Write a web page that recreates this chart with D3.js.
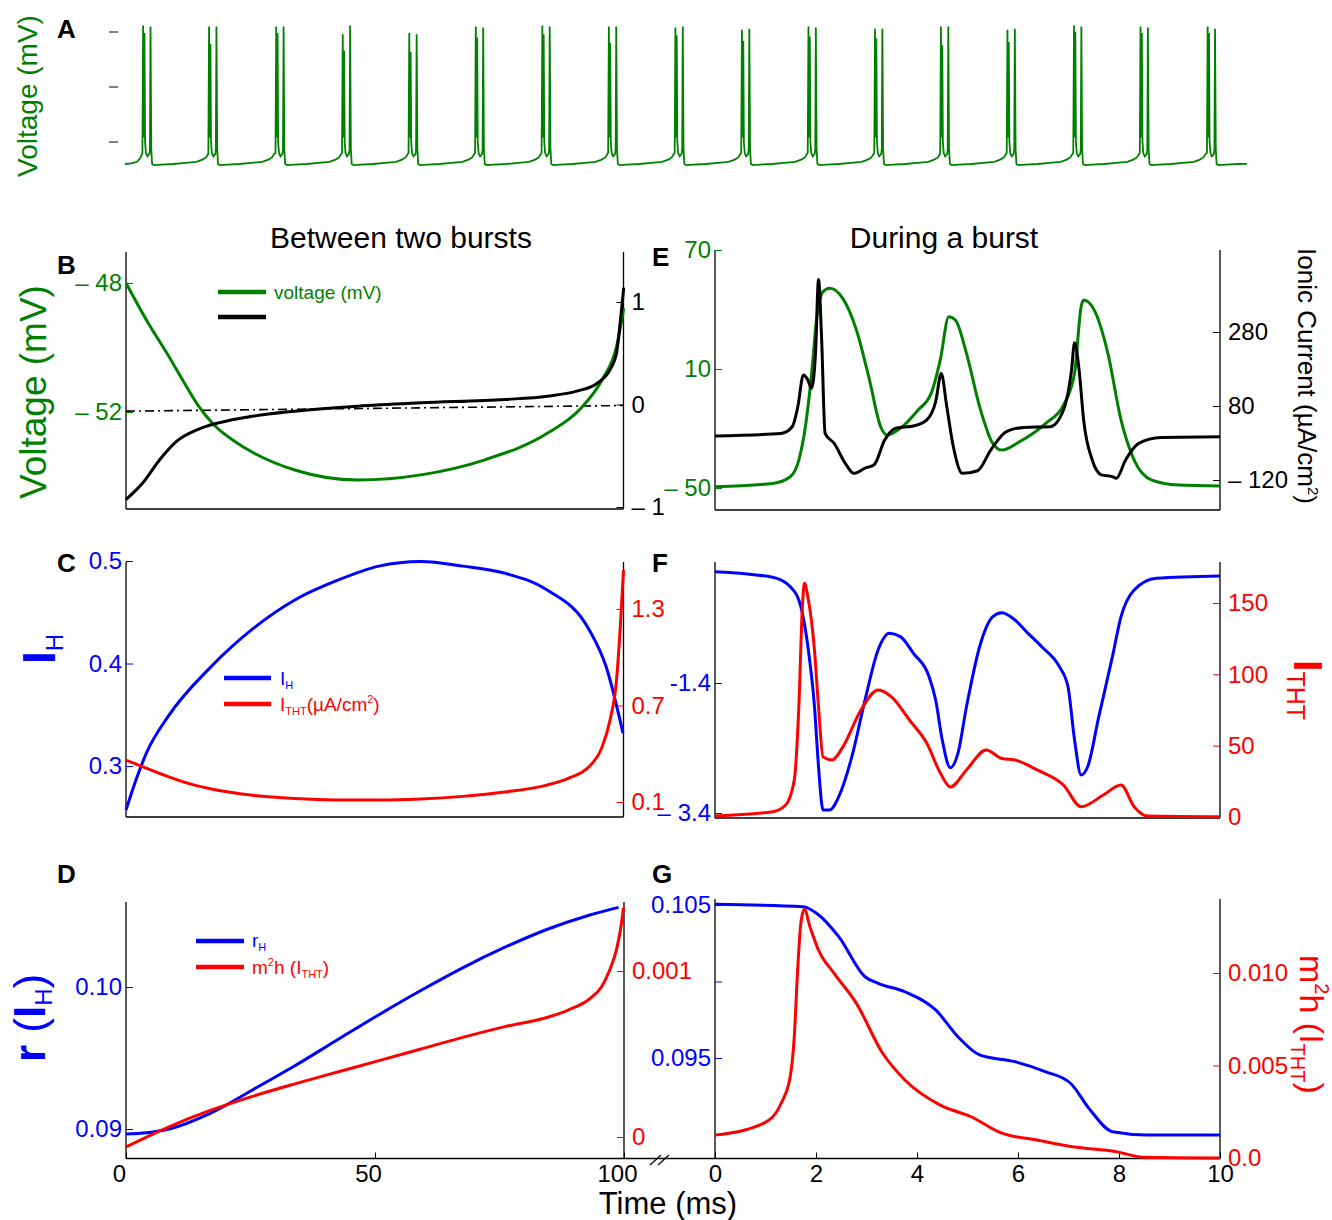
<!DOCTYPE html>
<html lang="en">
<head>
<meta charset="UTF-8">
<title>Bursting neuron</title>
<script src="https://cdn.jsdelivr.net/npm/d3@7"></script>
<style>
  body { margin: 0; background: #fff; }
  svg text { font-family: "Liberation Sans", Arial, Helvetica, sans-serif; }
</style>
</head>
<body>
<div id="fig"></div>
<script>
// ---------------- data ----------------
const GREEN = "#008000", BLUE = "#0000ff", RED = "#ff0000";

// A: spike train (ms, mV)
const burstTimesA = [30, 139, 250, 360, 470, 580, 690, 800, 910, 1020, 1130, 1240, 1349, 1459, 1569, 1679, 1790];
const spikePeaksA = [[56,49,55],[55,39,55],[55,49,55],[48,33,56],[49,32,48],[55,45,54],[56,48,55],[55,40,55],
                     [54,47,55],[52,42,53],[55,46,54],[53,44,53],[55,38,55],[52,41,53],[56,50,55],[55,49,54],[55,49,53]];
// one cycle, relative to first spike of a burst; null = spike peak
const cycleT = [-1.2, 0, 1.0, 2.2, 3.2, 4.6, 7, 10.2, 11.2, 12.2, 13.4, 14.8, 18, 30, 50, 70, 88, 98, 104, 107.5];
const cycleV = [-60, null, -46, null, -50, -60, -63, -61, -57, null, -56, -70, -71, -70.5, -70, -69, -68, -66, -64, -61];
const leadT = [0, 10, 20, 26];
const leadV = [-70, -69.5, -68, -64];
const endA = [1855, -69.8];
const ticksA = [-50, 0, 50];

// B: between two bursts (t in ms)
const tB_v = [0, 4.3, 8.5, 11.9, 14.4, 17.8, 22.0, 25.4, 33.9, 46.5, 59.2, 71.9, 84.6, 91.3, 95.6, 98.5, 99.95];
const vB   = [-48.0, -49.2, -50.25, -51.15, -51.78, -52.42, -52.93, -53.25, -53.8, -54.11, -53.95, -53.49, -52.66, -51.89, -51.0, -49.97, -48.78];
const tB_i = [0, 3.4, 6.8, 10.2, 14.4, 18.6, 25.4, 33.9, 46.5, 59.2, 76.1, 84.6, 90.5, 94.7, 97.2, 98.5, 99.3, 99.95];
const iB   = [-0.927, -0.764, -0.537, -0.358, -0.244, -0.179, -0.114, -0.065, -0.016, 0.016, 0.049, 0.081, 0.13, 0.21, 0.34, 0.50, 0.83, 1.14];
const refB_t = [0, 100];
const refB_v = [-0.065, -0.01];
const ticksB_left = [-48, -52],   labelsB_left = ["– 48", "– 52"];
const ticksB_right = [1, 0, -1],  labelsB_right = ["1", "0", "– 1"];

// C: I_H and I_THT
const tC_h = [0, 2.0, 4.2, 8.4, 16.9, 25.5, 33.9, 42.4, 50.8, 59.2, 67.7, 76.1, 84.5, 93.0, 96.4, 99.8];
const iC_h = [0.257, 0.2863, 0.3137, 0.348, 0.396, 0.434, 0.462, 0.481, 0.495, 0.4995, 0.495, 0.488, 0.472, 0.433, 0.397, 0.332];
const tC_t = [0, 8.5, 12.7, 16.9, 25.4, 33.9, 42.3, 50.8, 59.2, 67.6, 76.1, 84.5, 88.8, 93.0, 95.5, 97.2, 98.5, 99.3, 99.9];
const iC_t = [0.361, 0.258, 0.214, 0.182, 0.142, 0.122, 0.113, 0.112, 0.119, 0.135, 0.162, 0.205, 0.247, 0.320, 0.434, 0.610, 0.859, 1.211, 1.543];
const ticksC_left = [0.5, 0.4, 0.3],  labelsC_left = ["0.5", "0.4", "0.3"];
const ticksC_right = [1.3, 0.7, 0.1], labelsC_right = ["1.3", "0.7", "0.1"];

// D: gating variables
const tD_r = [0, 4.2, 8.5, 16.9, 25.4, 33.9, 42.3, 50.8, 59.2, 67.6, 76.1, 84.5, 93.0, 98.9];
const rD   = [0.08965, 0.08974, 0.08998, 0.0911, 0.09275, 0.09445, 0.09625, 0.09805, 0.09975, 0.10135, 0.1028, 0.10405, 0.10505, 0.10561];
const tD_m = [0, 8.5, 16.9, 25.4, 33.9, 42.3, 50.8, 59.2, 67.6, 76.1, 84.5, 88.8, 93.0, 95.5, 97.2, 98.5, 99.3, 99.9];
const mD   = [-0.00006, 0.00006, 0.00016, 0.000245, 0.00032, 0.00039, 0.00046, 0.00053, 0.0006, 0.000665, 0.00072,
              0.000765, 0.00083, 0.000905, 0.00101, 0.00113, 0.00125, 0.00138];
const ticksD_left = [0.10, 0.09],  labelsD_left = ["0.10", "0.09"];
const ticksD_right = [0.001, 0],   labelsD_right = ["0.001", "0"];
const ticksD_x = [0, 50, 100];

// E: during a burst (t in ms)
const tE_v = [0, 1.14, 1.49, 1.66, 1.79, 1.92, 2.01, 2.14, 2.27, 2.53, 2.80, 3.06, 3.28, 3.41, 3.67, 4.02, 4.28, 4.46, 4.63, 4.76,
              4.98, 5.24, 5.5, 5.68, 6.03, 6.55, 6.9, 7.12, 7.25, 7.30, 7.51, 7.78, 8.04, 8.30, 8.65, 9.18, 10];
const vE   = [-49.4, -47.7, -44.3, -35.9, -19.1, 9.5, 34.7, 49.0, 50.7, 45.6, 29.7, 4.4, -19.1, -23.3, -19.9, -10.7, -2.3, 14.5, 36.4, 34.7,
              17.9, -9.0, -27.5, -30.9, -26.7, -17.4, -8.2, 7.8, 41.4, 44.8, 39.7, 17.9, -15.7, -35.9, -46.0, -48.5, -49.0];
const tE_i = [0, 1.31, 1.53, 1.64, 1.75, 1.84, 1.91, 1.99, 2.05, 2.11, 2.18, 2.36, 2.58, 2.75, 2.97, 3.15, 3.36, 3.58, 3.93, 4.19, 4.37,
              4.48, 4.59, 4.72, 4.9, 5.2, 5.46, 5.77, 6.12, 6.64, 6.9, 7.06, 7.12, 7.21, 7.30, 7.47, 7.65, 7.87, 7.95, 8.13, 8.39, 8.83, 10];
const iE   = [-1, 6, 24, 78, 164, 150, 128, 222, 422, 267, 6, -21, -75, -102, -88, -79, -12, 20, 26, 42, 92,
              168, 78, -30, -102, -95, -39, 11, 22, 24, 69, 177, 251, 177, 42, -66, -106, -111, -115, -66, -21, -5, -3];
const ticksE_left = [70, 10, -50],     labelsE_left = ["70", "10", "– 50"];
const ticksE_right = [280, 80, -120],  labelsE_right = ["280", "80", "– 120"];

// F: currents during a burst
const tF_h = [0, 1.14, 1.49, 1.70, 1.84, 1.97, 2.05, 2.14, 2.27, 2.45, 2.71, 2.97, 3.23, 3.45, 3.67, 3.93, 4.24, 4.37, 4.50, 4.66,
              4.81, 4.98, 5.24, 5.5, 5.68, 5.94, 6.2, 6.47, 6.82, 6.99, 7.12, 7.25, 7.38, 7.6, 7.87, 8.04, 8.30, 8.74, 10];
const iF_h = [0.312, 0.226, 0.082, -0.226, -0.842, -1.765, -2.688, -3.354, -3.354, -3.149, -2.534, -1.662, -0.892, -0.636, -0.687,
              -0.943, -1.303, -1.662, -2.277, -2.703, -2.482, -1.765, -0.842, -0.38, -0.319, -0.431, -0.636, -0.842, -1.149, -1.457,
              -2.277, -2.815, -2.688, -1.918, -0.995, -0.38, 0.031, 0.211, 0.246];
const tF_t = [0, 1.14, 1.40, 1.57, 1.66, 1.73, 1.77, 1.84, 1.97, 2.05, 2.14, 2.32, 2.53, 2.89, 3.23, 3.50, 3.85, 4.19, 4.46, 4.66,
              4.98, 5.37, 5.68, 5.94, 6.38, 6.9, 7.25, 7.69, 8.04, 8.30, 8.56, 10];
const iF_t = [0.7, 3.7, 8.4, 25.9, 77, 147, 164, 154, 117, 77, 42, 40, 49, 75, 89, 84, 68, 52, 31, 21,
              33, 47, 41, 40, 33, 22.4, 7.2, 15.4, 22.4, 7.2, 0.7, 0.2];
const ticksF_left = [-1.4, -3.4],           labelsF_left = ["-1.4", "– 3.4"];
const ticksF_right = [150, 100, 50, 0],     labelsF_right = ["150", "100", "50", "0"];

// G: gating variables during a burst
const tG_r = [0, 1.75, 2.01, 2.45, 2.97, 3.23, 3.76, 4.37, 4.81, 5.24, 5.94, 6.55, 7.04, 7.43, 7.87, 8.56, 10];
const rG   = [0.10505, 0.10489, 0.10446, 0.10293, 0.10031, 0.09988, 0.09933, 0.09814, 0.09639, 0.0952, 0.09476, 0.0941,
              0.09335, 0.0916, 0.09018, 0.08997, 0.08997];
const tG_m = [0, 0.96, 1.31, 1.49, 1.57, 1.64, 1.70, 1.77, 1.88, 2.05, 2.36, 2.80, 3.32, 3.76, 4.46, 5.07, 5.68, 6.38, 7.08, 7.95, 8.48, 10];
const mG   = [0.00124, 0.00187, 0.00296, 0.0044, 0.00656, 0.01034, 0.01268, 0.01344, 0.0125, 0.01124, 0.00998, 0.00836, 0.00566,
              0.00422, 0.00286, 0.00223, 0.00134, 0.00097, 0.00061, 0.00034, 0.00004, 0.0];
const ticksG_left = [0.105, 0.100, 0.095, 0.090],  labelsG_left = ["0.105", "", "0.095", ""];
const ticksG_right = [0.010, 0.005, 0.0],           labelsG_right = ["0.010", "0.005", "0.0"];
const ticksG_x = [0, 2, 4, 6, 8, 10];

// ---------------- drawing ----------------
const FONT = '"Liberation Sans", Arial, Helvetica, sans-serif';
const svg = d3.select("#fig").append("svg").attr("width", 1332).attr("height", 1220);

// shared time scales
const xSlow = d3.scaleLinear().domain([0, 100]).range([126, 624]);
const xFast = d3.scaleLinear().domain([0, 10]).range([715, 1220]);

const drawLine = (ts, vs, x, y, color, width) => {
    svg.append("path")
        .datum(d3.zip(ts, vs))
        .attr("fill", "none")
        .attr("stroke", color)
        .attr("stroke-width", width)
        .attr("stroke-linejoin", "round")
        .attr("d", d3.line().x(d => x(d[0])).y(d => y(d[1])).curve(d3.curveMonotoneX));
};

const frame = (x0, x1, top, bottom) => {
    const g = svg.append("g").attr("stroke", "#000").attr("stroke-width", 1.3);
    g.append("line").attr("x1", x0).attr("x2", x0).attr("y1", top).attr("y2", bottom);
    g.append("line").attr("x1", x1).attr("x2", x1).attr("y1", top).attr("y2", bottom);
    g.append("line").attr("x1", x0).attr("x2", x1).attr("y1", bottom).attr("y2", bottom);
};

const yAxis = (scale, xPos, side, vals, labels, color) => {
    const ax = (side === "left" ? d3.axisLeft(scale) : d3.axisRight(scale))
        .tickValues(vals)
        .tickFormat((d, i) => labels[i])
        .tickSize(-7)
        .tickSizeOuter(0)
        .tickPadding(side === "left" ? 4 : 8);
    const g = svg.append("g").attr("transform", `translate(${xPos},0)`).call(ax)
        .attr("font-family", FONT).attr("font-size", 24);
    g.select(".domain").remove();
    g.selectAll("line").attr("stroke", color);
    g.selectAll("text").attr("fill", color);
};

const xAxis = (scale, yPos, vals, dx) => {
    const g = svg.append("g").attr("transform", `translate(0,${yPos})`)
        .call(d3.axisBottom(scale).tickValues(vals).tickSize(-6).tickSizeOuter(0).tickPadding(6))
        .attr("font-family", FONT).attr("font-size", 24);
    g.select(".domain").remove();
    g.selectAll("text").attr("fill", "#000").attr("dx", dx);
};

// text with sub/superscripts: parts = [{t, size, shift, bold}]
const rich = (textSel, parts, size) => {
    let shift = 0;
    parts.forEach(p => {
        const target = p.shift || 0;
        textSel.append("tspan")
            .attr("dy", target - shift)
            .style("font-size", (p.size || size) + "px")
            .style("font-weight", p.bold ? "bold" : "normal")
            .text(p.t);
        shift = target;
    });
    return textSel;
};

const label = (x, y, txt, opts = {}) => svg.append("text")
    .attr("x", x).attr("y", y)
    .attr("fill", opts.color || "#000")
    .attr("text-anchor", opts.anchor || "start")
    .style("font-size", (opts.size || 24) + "px")
    .style("font-weight", opts.bold ? "bold" : "normal")
    .text(txt);

const legendLine = (x0, x1, y, color) => svg.append("line")
    .attr("x1", x0).attr("x2", x1).attr("y1", y).attr("y2", y)
    .attr("stroke", color).attr("stroke-width", 4.5);

// ---- panel letters and titles ----
[["A", 57, 38], ["B", 57, 274], ["C", 57, 572], ["D", 57, 883], ["E", 652, 266], ["F", 652, 572], ["G", 652, 883]]
    .forEach(([t, x, y]) => label(x, y, t, { size: 26, bold: true }));
label(401, 248, "Between two bursts", { size: 30, anchor: "middle" });
label(944, 248, "During a burst", { size: 30, anchor: "middle" });

// ---- A ----
const xA = d3.scaleLinear().domain([0, 1860]).range([125, 1250]);
const yA = d3.scaleLinear().domain([-50, 50]).range([142, 32]);
let traceT = leadT.slice(), traceV = leadV.slice();
burstTimesA.forEach((b, k) => {
    let slot = 0;
    cycleT.forEach((ct, j) => {
        const t = b + ct;
        if (t >= endA[0]) return;
        traceT.push(t);
        traceV.push(cycleV[j] === null ? spikePeaksA[k][slot++] : cycleV[j]);
    });
});
traceT.push(endA[0]); traceV.push(endA[1]);
svg.append("path")
    .datum(d3.zip(traceT, traceV))
    .attr("fill", "none").attr("stroke", GREEN).attr("stroke-width", 1.8)
    .attr("d", d3.line().x(d => xA(d[0])).y(d => yA(d[1])));
svg.append("g").selectAll("line").data(ticksA).join("line")
    .attr("x1", 109).attr("x2", 118).attr("y1", d => yA(d)).attr("y2", d => yA(d))
    .attr("stroke", "#000").attr("stroke-width", 1);
svg.append("text").attr("transform", "translate(37,96) rotate(-90)")
    .attr("text-anchor", "middle").attr("fill", GREEN).style("font-size", "28px").text("Voltage (mV)");

// ---- B ----
const yBv = d3.scaleLinear().domain([-48, -52]).range([283, 412]);
const yBi = d3.scaleLinear().domain([1, -1]).range([302, 507]);
frame(126, 623.5, 252, 509);
yAxis(yBv, 126, "left", ticksB_left, labelsB_left, GREEN);
yAxis(yBi, 623.5, "right", ticksB_right, labelsB_right, "#000");
svg.append("path").datum(d3.zip(refB_t, refB_v))
    .attr("fill", "none").attr("stroke", "#000").attr("stroke-width", 1.6)
    .attr("stroke-dasharray", "9,4,2,4")
    .attr("d", d3.line().x(d => xSlow(d[0])).y(d => yBi(d[1])));
drawLine(tB_v, vB, xSlow, yBv, GREEN, 3);
drawLine(tB_i, iB, xSlow, yBi, "#000", 3);
legendLine(218, 266, 292, GREEN);
label(274, 299, "voltage (mV)", { size: 19, color: GREEN });
legendLine(218, 266, 317, "#000");
svg.append("text").attr("transform", "translate(46,392) rotate(-90)")
    .attr("text-anchor", "middle").attr("fill", GREEN).style("font-size", "37px").text("Voltage (mV)");

// ---- C ----
const yCh = d3.scaleLinear().domain([0.5, 0.3]).range([561, 766]);
const yCt = d3.scaleLinear().domain([1.3, 0.1]).range([609, 802]);
frame(126, 623.5, 562, 817);
yAxis(yCh, 126, "left", ticksC_left, labelsC_left, BLUE);
yAxis(yCt, 623.5, "right", ticksC_right, labelsC_right, RED);
drawLine(tC_h, iC_h, xSlow, yCh, BLUE, 3);
drawLine(tC_t, iC_t, xSlow, yCt, RED, 3);
legendLine(224, 271, 678, BLUE);
rich(svg.append("text").attr("x", 280).attr("y", 685).attr("fill", BLUE),
    [{ t: "I" }, { t: "H", size: 11, shift: 4 }], 19);
legendLine(224, 271, 704, RED);
rich(svg.append("text").attr("x", 280).attr("y", 711).attr("fill", RED),
    [{ t: "I" }, { t: "THT", size: 11, shift: 4 }, { t: "(µA/cm" }, { t: "2", size: 11, shift: -8 }, { t: ")" }], 19);
rich(svg.append("text").attr("transform", "translate(55,664) rotate(-90)").attr("fill", BLUE),
    [{ t: "I", bold: true }, { t: "H", size: 24, shift: 8 }], 46);

// ---- D ----
const yDr = d3.scaleLinear().domain([0.10, 0.09]).range([987, 1129]);
const yDm = d3.scaleLinear().domain([0.001, 0]).range([971, 1137]);
frame(126, 624, 902, 1158.5);
yAxis(yDr, 126, "left", ticksD_left, labelsD_left, BLUE);
yAxis(yDm, 624, "right", ticksD_right, labelsD_right, RED);
xAxis(xSlow, 1158.5, ticksD_x, -7);
drawLine(tD_r, rD, xSlow, yDr, BLUE, 3);
drawLine(tD_m, mD, xSlow, yDm, RED, 3);
legendLine(196, 244, 941, BLUE);
rich(svg.append("text").attr("x", 252).attr("y", 947).attr("fill", BLUE),
    [{ t: "r" }, { t: "H", size: 11, shift: 4 }], 19);
legendLine(196, 244, 967, RED);
rich(svg.append("text").attr("x", 252).attr("y", 974).attr("fill", RED),
    [{ t: "m" }, { t: "2", size: 11, shift: -8 }, { t: "h (I" }, { t: "THT", size: 11, shift: 4 }, { t: ")" }], 19);
rich(svg.append("text").attr("transform", "translate(45,1062) rotate(-90)").attr("fill", BLUE),
    [{ t: "r", bold: true }, { t: "  (" }, { t: "I", bold: true }, { t: "H", size: 24, shift: 7 }, { t: ")" }], 44);

// bottom axis joining D and G, with a break mark
svg.append("line").attr("x1", 624).attr("x2", 715).attr("y1", 1158.5).attr("y2", 1158.5)
    .attr("stroke", "#000").attr("stroke-width", 1.3);
[[650, 661], [658, 669]].forEach(([a, b]) => svg.append("line")
    .attr("x1", a).attr("y1", 1165).attr("x2", b).attr("y2", 1155)
    .attr("stroke", "#000").attr("stroke-width", 1.2));
label(668, 1214, "Time (ms)", { size: 31, anchor: "middle" });

// ---- E ----
const yEv = d3.scaleLinear().domain([70, -50]).range([250, 488]);
const yEi = d3.scaleLinear().domain([280, -120]).range([332, 480]);
frame(715, 1220, 250, 510);
yAxis(yEv, 715, "left", ticksE_left, labelsE_left, GREEN);
yAxis(yEi, 1220, "right", ticksE_right, labelsE_right, "#000");
drawLine(tE_v, vE, xFast, yEv, GREEN, 3);
drawLine(tE_i, iE, xFast, yEi, "#000", 3);
rich(svg.append("text").attr("transform", "translate(1298,248) rotate(90)").attr("fill", "#000"),
    [{ t: "Ionic Current (µA/cm" }, { t: "2", size: 15, shift: -10 }, { t: ")" }], 26);

// ---- F ----
const yFh = d3.scaleLinear().domain([-1.4, -3.4]).range([683, 813]);
const yFt = d3.scaleLinear().domain([150, 0]).range([603, 817]);
frame(715, 1220, 562, 818);
yAxis(yFh, 715, "left", ticksF_left, labelsF_left, BLUE);
yAxis(yFt, 1220, "right", ticksF_right, labelsF_right, RED);
drawLine(tF_h, iF_h, xFast, yFh, BLUE, 3);
drawLine(tF_t, iF_t, xFast, yFt, RED, 3);
rich(svg.append("text").attr("transform", "translate(1294,660) rotate(90)").attr("fill", RED),
    [{ t: "I", bold: true }, { t: "THT", size: 25, shift: 7 }], 41);

// ---- G ----
const yGr = d3.scaleLinear().domain([0.105, 0.095]).range([905, 1058]);
const yGm = d3.scaleLinear().domain([0.010, 0]).range([973, 1158]);
frame(715, 1220, 899, 1158.5);
yAxis(yGr, 715, "left", ticksG_left, labelsG_left, BLUE);
yAxis(yGm, 1220, "right", ticksG_right, labelsG_right, RED);
xAxis(xFast, 1158.5, ticksG_x, 0);
drawLine(tG_r, rG, xFast, yGr, BLUE, 3);
drawLine(tG_m, mG, xFast, yGm, RED, 3);
rich(svg.append("text").attr("transform", "translate(1300,955) rotate(90)").attr("fill", RED),
    [{ t: "m" }, { t: "2", size: 20, shift: -15 }, { t: "h (I" }, { t: "THT", size: 20, shift: 9 }, { t: ")" }], 34);
</script>
</body>
</html>
